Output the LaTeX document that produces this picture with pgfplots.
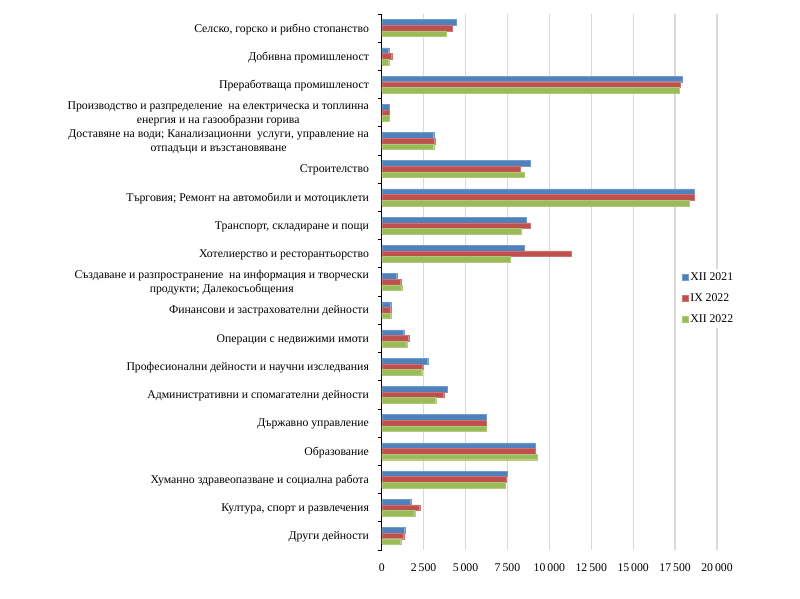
\documentclass[border=0pt]{standalone}
\usepackage{pgfplots}
\usepackage{pgfplotstable}
\pgfplotsset{compat=1.18}
\usepackage{fontspec}
\setmainfont{Liberation Serif}
\definecolor{sblue}{HTML}{4F81BD}
\definecolor{sred}{HTML}{C0504D}
\definecolor{sgreen}{HTML}{9BBB59}
\definecolor{gridgray}{HTML}{D9D9D9}

% idx  XII 2021  IX 2022  XII 2022
\pgfplotstableread{
idx a b c
0 4433 4232 3837
1 418 597 418
2 17936 17780 17721
3 477 477 477
4 3103 3162 3103
5 8849 8252 8490
6 18634 18634 18354
7 8610 8849 8311
8 8490 11295 7655
9 895 1134 1193
10 537 537 537
11 1313 1611 1492
12 2745 2446 2387
13 3896 3699 3222
14 6223 6223 6223
15 9129 9129 9266
16 7476 7417 7357
17 1730 2267 1969
18 1372 1313 1134
}\data

\pgfplotsset{sq legend/.style={legend image code/.code={\fill[##1] (0bp,-3bp) rectangle (6bp,3bp);}}}

\begin{document}
\begin{tikzpicture}
\useasboundingbox (0,0) rectangle (800bp,599bp);
\begin{axis}[
    at={(381.7bp,49bp)}, anchor=south west,
    scale only axis, width=335.3bp, height=536bp,
    xbar=0pt, bar width=0.2,
    xmin=0, xmax=20000,
    ymin=-0.5, ymax=18.5, y dir=reverse,
    axis lines*=left,
    x axis line style={draw=none},
    y axis line style={black, line width=1bp},
    xtick={0,2500,...,20000},
    scaled x ticks=false,
    /pgf/number format/.cd, 1000 sep={\,}, assume math mode=true, /pgfplots/.cd,
    major x tick style={draw=none},
    xmajorgrids,
    major grid style={gridgray, line width=1.2bp},
    ytick={0,...,18},
    major y tick style={draw=none},
    minor ytick={-0.5,0.5,...,18.5},
    minor y tick style={black, line width=0.8bp},
    tick align=outside,
    minor tick length=4bp,
    ticklabel style={font=\fontsize{11.8}{14}\selectfont},
    yticklabel style={align=center, xshift=-5bp, yshift=-1bp},
    xticklabel style={yshift=-6bp},
    yticklabels={
      {Селско, горско и рибно стопанство},
      {Добивна промишленост},
      {Преработваща промишленост},
      {Производство и разпределение\ \ на електрическа и топлинна\\енергия и на газообразни горива},
      {Доставяне на води; Канализационни\ \ услуги, управление на\\отпадъци и възстановяване},
      {Строителство},
      {Търговия; Ремонт на автомобили и мотоциклети},
      {Транспорт, складиране и пощи},
      {Хотелиерство и ресторантьорство},
      {Създаване и разпространение\ \ на информация и творчески\\продукти; Далекосъобщения},
      {Финансови и застрахователни дейности},
      {Операции с недвижими имоти},
      {Професионални дейности и научни изследвания},
      {Административни и спомагателни дейности},
      {Държавно управление},
      {Образование},
      {Хуманно здравеопазване и социална работа},
      {Култура, спорт и развлечения},
      {Други дейности}
    },
    legend style={at={(0.886,0.525)}, anchor=north west, draw=none, fill=white,
      font=\fontsize{11.8}{14}\selectfont, row sep=7.5bp},
    legend cell align=left,
]
\addplot[sq legend, fill=sblue, draw=sblue!80!white] table[x=a, y=idx] {\data};
\addplot[sq legend, fill=sred, draw=sred!80!white] table[x=b, y=idx] {\data};
\addplot[sq legend, fill=sgreen, draw=sgreen!80!white] table[x=c, y=idx] {\data};
\legend{XII 2021, IX 2022, XII 2022}
\end{axis}
\end{tikzpicture}
\end{document}
